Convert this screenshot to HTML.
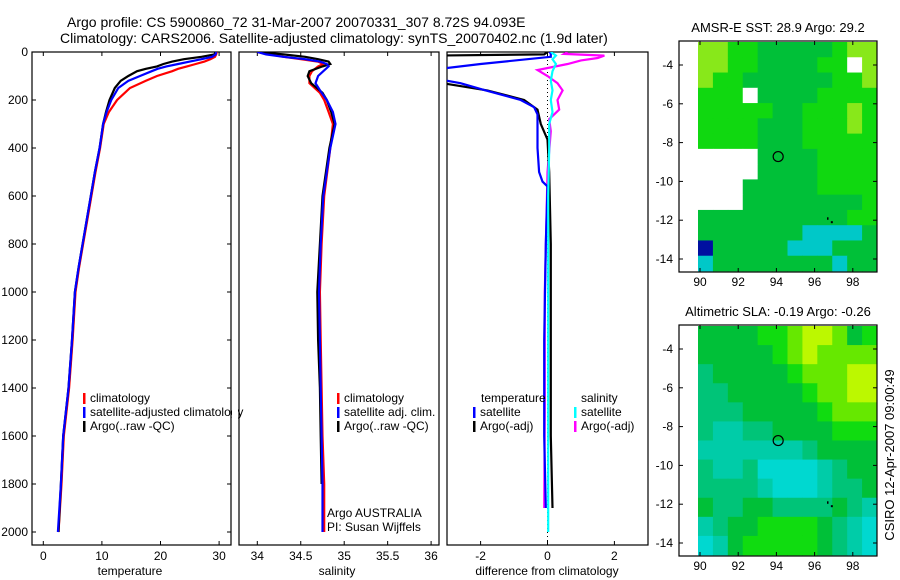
<!DOCTYPE html>
<html><head><meta charset="utf-8"><style>
html,body{margin:0;padding:0;background:#fff;}
svg{display:block;font-family:"Liberation Sans",sans-serif;}
text{fill:#000;}
</style></head><body>
<svg id="c" width="900" height="580" viewBox="0 0 900 580" xmlns="http://www.w3.org/2000/svg">
<text x="67" y="27" font-size="14">Argo profile: CS 5900860_72 31-Mar-2007 20070331_307 8.72S 94.093E</text>
<text x="60" y="43" font-size="14">Climatology: CARS2006. Satellite-adjusted climatology: synTS_20070402.nc (1.9d later)</text>
<text x="778" y="32" font-size="13" text-anchor="middle">AMSR-E SST: 28.9 Argo: 29.2</text>
<text x="778" y="316" font-size="13" text-anchor="middle">Altimetric SLA: -0.19 Argo: -0.26</text>
<text transform="translate(894,455) rotate(-90)" font-size="13" text-anchor="middle">CSIRO 12-Apr-2007 09:00:49</text>
<defs>
<clipPath id="cp1"><rect x="32" y="52" width="199" height="493"/></clipPath>
<clipPath id="cp2"><rect x="239" y="52" width="200" height="493"/></clipPath>
<clipPath id="cp3"><rect x="447" y="52" width="201" height="493"/></clipPath>
</defs>
<g id="g"></g>
</svg>
<script>
// ---- Temperature panel data ----
const tDepth = [0,10,20,30,40,50,60,70,80,100,120,150,200,250,300,400,500,600,700,800,900,1000,1200,1400,1600,1800,2000];
const tClim  = [29.6,29.5,29.3,28.5,27.5,26,24.5,23,22,19.4,17.5,14.8,12.6,11.2,10.3,9.7,8.9,8.2,7.5,6.8,6.1,5.5,5.0,4.4,3.5,3.1,2.6];
const tSat   = [29.5,29.4,28.8,27,25,23,21,19.5,18.5,16.5,14.5,12.8,11.6,10.8,10.2,9.6,8.8,8.1,7.4,6.7,6.0,5.4,4.9,4.3,3.4,3.0,2.5];
const tArgo  = [29.4,29.2,27,24,22,20.5,19.4,17.5,16,14.5,13.2,12.2,11.3,10.7,10.2,9.6,8.8,8.1,7.4,6.7,6.0,5.4,4.9,4.3,3.4,3.0,2.6];
const tTicks = [0,10,20,30];
// ---- Salinity panel data ----
const sDepth = [0,10,20,30,40,50,60,80,100,130,170,200,250,300,400,600,800,1000,1200,1400,1600,1800,2000];
const sClim  = [34.0,34.15,34.3,34.5,34.7,34.76,34.7,34.63,34.6,34.6,34.72,34.77,34.82,34.87,34.84,34.77,34.74,34.72,34.73,34.74,34.75,34.77,34.77];
const sSat   = [34.0,34.1,34.3,34.55,34.72,34.8,34.82,34.76,34.7,34.67,34.74,34.8,34.87,34.9,34.84,34.76,34.73,34.71,34.72,34.73,34.74,34.75,34.75];
const sArgo  = [34.0,34.3,34.55,34.7,34.82,34.84,34.75,34.6,34.58,34.62,34.75,34.8,34.85,34.89,34.83,34.75,34.72,34.69,34.7,34.72,34.73,34.74,null];
const sTicks = [34,34.5,35,35.5,36];
// ---- Difference panel data ----
const dTSatDepth = [0,5,20,50,75,100,115,130,158,200,230,260,300,400,500,540,560,800,1200,1600,1900];
const dTSat      = [0.05,0.1,0.1,-2,-3.5,-3.5,-3.2,-2.6,-1.9,-0.8,-0.4,-0.3,-0.3,-0.3,-0.25,-0.15,0,-0.05,-0.1,-0.1,-0.05];
const dTArgoDepth = [0,10,15,20,60,100,133,160,200,240,300,365,500,800,1200,1600,1900];
const dTArgo      = [0,-0.1,-3.5,-3.5,-3.5,-3.5,-3,-1.8,-0.7,-0.3,-0.2,0,0.05,0.1,0.1,0.1,0.15];
const dSSatDepth = [0,15,30,50,80,120,160,200,250,300,400,600,1000,1500,2000];
const dSSat      = [0.1,0.25,0.15,0.25,0.15,0.1,0.15,0.1,0.15,0.05,0.05,0.02,0.02,0.02,0.02];
const dSArgoDepth = [0,8,15,25,35,50,75,100,130,160,200,240,280,330,500,1000,1500,1900];
const dSArgo      = [0.6,0.5,1.7,1.5,1.0,0.6,-0.3,0.0,0.3,0.45,0.3,0.35,0.05,0.1,0.0,-0.08,-0.08,-0.1];
const dTicks = [-2,0,2];
const depthTicks = [0,200,400,600,800,1000,1200,1400,1600,1800,2000];
// ---- Maps ----
const lonTicks = [90,92,94,96,98];
const latTicks = [-4,-6,-8,-10,-12,-14];
const argoLon = 94.093, argoLat = -8.72;
const sstRows = [
"yyggdddddgyy","yyggddddgg wy".replace(' ',''),"yggddddddggy","gggwddddgggg","gggggddgggyg",
"ggggdddgggyg","ggggdddggggg","wwwwddddgggg","wwwwddddgggg","wwwdddddgggg",
"wwwddddddddg","ddddddddddgg","dddddddccccd","ndddddcccdd d".replace(' ',''),"cddddddddcdd"];
const slaRows = [
"GGGGBBLYYLGB","GGGGGBLYLLLL","TGGGGGBLLLYY","TTGGGGGBLLYY","TTTGGGGGBLLL","TccTTGGGGBBB",
"cccccccTGGGG","TccTCCCCcTGG","TTTTcCCCcTTG","GTTGGTTTTGTc","cTGGBBBBGTcC","CcGBBBBBGTcC"];

const NS="http://www.w3.org/2000/svg";
const G=document.getElementById('g');
function el(tag,attrs,parent){const e=document.createElementNS(NS,tag);for(const k in attrs)e.setAttribute(k,attrs[k]);(parent||G).appendChild(e);return e;}
function txt(x,y,s,anchor,size,parent){const t=el('text',{x:x,y:y,'font-size':size||12,'text-anchor':anchor||'start'},parent);t.textContent=s;return t;}

const Y=z=>52+z*0.24;
const TX=v=>43.3+v*5.86, SX=v=>257.3+(v-34)*86.9, DX=v=>547.5+v*33.45;

function series(depths,vals,xf,color,clip,name){
  let pts=[];
  for(let i=0;i<depths.length;i++){ if(vals[i]===null)continue; pts.push(xf(vals[i]).toFixed(1)+','+Y(depths[i]).toFixed(1)); }
  const p=el('polyline',{points:pts.join(' '),fill:'none',stroke:color,'stroke-width':2.2,'clip-path':'url(#'+clip+')'});
  
  
}
function panel(x0,x1,name){
  const r=el('rect',{x:x0,y:52,width:x1-x0,height:493,fill:'none',stroke:'#000','stroke-width':1.2});
  
  
}
function xticks(vals,xf,labelY){
  vals.forEach(v=>{const x=xf(v);el('line',{x1:x,x2:x,y1:545,y2:541,stroke:'#000'});el('line',{x1:x,x2:x,y1:52,y2:56,stroke:'#000'});
    const t=txt(x,560,String(v),'middle',12);
    
    });
}
function legendItem(x,y,color,label,name){
  if(color) el('rect',{x:x,y:y-9,width:2.5,height:11,fill:color});
  const t=txt(x+(color?7:0),y,label,'start',12);
  
  
}

// Panel 1
panel(32,231,'temperature-panel');
depthTicks.forEach(d=>{const y=Y(d);el('line',{x1:32,x2:36,y1:y,y2:y,stroke:'#000'});el('line',{x1:231,x2:227,y1:y,y2:y,stroke:'#000'});
  const t=txt(28,y+4,String(d),'end',12);
  
  });
xticks(tTicks,TX);
series(tDepth,tClim,TX,'#ff0000','cp1','temp-climatology-line');
series(tDepth,tArgo,TX,'#000000','cp1','temp-argo-line');
series(tDepth,tSat,TX,'#0000ff','cp1','temp-satellite-line');
legendItem(83,402,'#ff0000','climatology','legend-climatology');
legendItem(83,416,'#0000ff','satellite-adjusted climatology','legend-satellite-adjusted');
legendItem(83,430,'#000000','Argo(..raw -QC)','legend-argo');
let t1=txt(130,575,'temperature','middle',12);  

// Panel 2 (clear overflow of legend text from panel 1)
el('rect',{x:232,y:380,width:6,height:60,fill:'#fff'});
panel(239,439,'salinity-panel');
xticks(sTicks,SX);
series(sDepth,sClim,SX,'#ff0000','cp2','sal-climatology-line');
series(sDepth,sArgo,SX,'#000000','cp2','sal-argo-line');
series(sDepth,sSat,SX,'#0000ff','cp2','sal-satellite-line');
legendItem(337,402,'#ff0000','climatology','legend2-climatology');
legendItem(337,416,'#0000ff','satellite adj. clim.','legend2-satellite');
legendItem(337,430,'#000000','Argo(..raw -QC)','legend2-argo');
let ta=txt(327,517,'Argo AUSTRALIA','start',12);  
let tp=txt(327,531,'PI: Susan Wijffels','start',12);  
let t2=txt(337,575,'salinity','middle',12);  

// Panel 3
panel(447,648,'difference-panel');
xticks(dTicks,DX);
el('line',{x1:DX(0),x2:DX(0),y1:52,y2:545,stroke:'#000','stroke-dasharray':'1,3'});
series(dSArgoDepth,dSArgo,DX,'#ff00ff','cp3','sal-argo-diff-line');
series(dTArgoDepth,dTArgo,DX,'#000000','cp3','temp-argo-diff-line');
series(dTSatDepth,dTSat,DX,'#0000ff','cp3','temp-satellite-diff-line');
series(dSSatDepth,dSSat,DX,'#00ffff','cp3','sal-satellite-diff-line');
legendItem(481,402,null,'temperature','legend3-temperature-heading');
legendItem(473,416,'#0000ff','satellite','legend3-temp-satellite');
legendItem(473,430,'#000000','Argo(-adj)','legend3-temp-argo');
legendItem(581,402,null,'salinity','legend3-salinity-heading');
legendItem(574,416,'#00ffff','satellite','legend3-sal-satellite');
legendItem(574,430,'#ff00ff','Argo(-adj)','legend3-sal-argo');
let t3=txt(547,575,'difference from climatology','middle',12);  

// Maps
const LX=l=>700+(l-90)*19.1;
function drawMap(top,bottom,latY,rows,pal,name){
  const g=el('g',{});
  
  
  const x0=698,x1=877,nr=rows.length,nc=rows[0].length;
  const cw=(x1-x0)/nc,ch=(bottom-top)/nr;
  rows.forEach((row,r)=>{for(let c=0;c<nc;c++){const col=pal[row[c]]||'#ffffff';
    el('rect',{x:(x0+c*cw).toFixed(2),y:(top+r*ch).toFixed(2),width:(cw+0.4).toFixed(2),height:(ch+0.4).toFixed(2),fill:col},g);}});
  el('rect',{x:679,y:top-1,width:198,height:bottom-top+2,fill:'none',stroke:'#000','stroke-width':1.2},g);
  lonTicks.forEach(l=>{const x=LX(l);el('line',{x1:x,x2:x,y1:top-1,y2:top+3,stroke:'#000'},g);el('line',{x1:x,x2:x,y1:bottom+1,y2:bottom-3,stroke:'#000'},g);
    const t=txt(x,bottom+15,String(l),'middle',12,g);
    
    });
  latTicks.forEach(la=>{const y=latY(la);el('line',{x1:877,x2:873,y1:y,y2:y,stroke:'#000'},g);el('line',{x1:679,x2:683,y1:y,y2:y,stroke:'#000'},g);
    const t=txt(673,y+4,String(la),'end',12,g);
    
    });
  const m=el('circle',{cx:LX(argoLon),cy:latY(argoLat),r:5,fill:'none',stroke:'#000','stroke-width':1.2},g);
  
  
  el('rect',{x:LX(96.65),y:latY(-11.85),width:1.5,height:2.5,fill:'#000'},g);
  el('rect',{x:LX(96.85),y:latY(-12.05),width:2,height:2,fill:'#000'},g);
}
drawMap(42,271,la=>65+(-4-la)*19.4,sstRows,
  {y:'#88e81a',g:'#10d810',d:'#00c038',w:'#ffffff',c:'#00c8c8',b:'#0070e8',n:'#0010a0'},'sst-map');
drawMap(326,555,la=>349+(-4-la)*19.4,slaRows,
  {G:'#00c038',B:'#10dc10',L:'#66e800',Y:'#bcf800',T:'#00c478',C:'#00d8d0',c:'#00cca8'},'sla-map');
</script>
</body></html>
